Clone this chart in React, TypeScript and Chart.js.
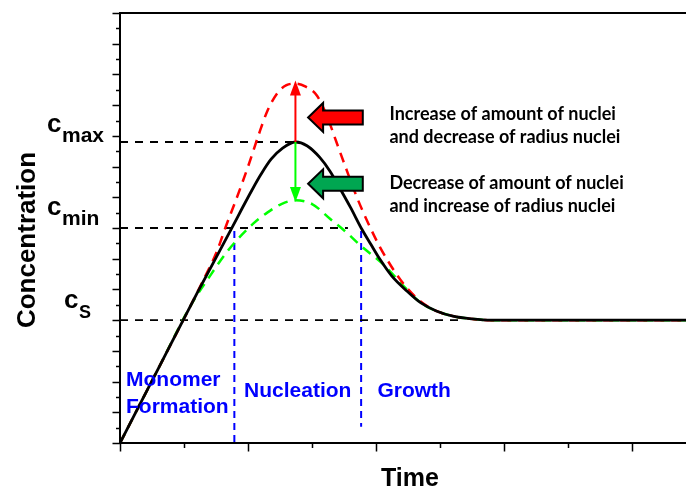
import React, { useEffect, useRef } from "react";
import { Chart, registerables } from "chart.js";
Chart.register(...registerables);

// ---- data (time in major-tick units, concentration in axis units) ----
const blackTime = [0, 0.3, 0.6, 0.88, 0.95, 1.03, 1.1, 1.18, 1.27, 1.37, 1.46, 1.56, 1.64, 1.72, 1.8, 1.89, 1.96, 2.03, 2.12, 2.24, 2.35, 2.47, 2.6, 2.75, 2.9, 3.2, 4.42];
const blackConc = [0, 2.43, 4.86, 7.05, 7.61, 8.23, 8.74, 9.24, 9.6, 9.8, 9.68, 9.3, 8.85, 8.27, 7.67, 6.95, 6.46, 5.98, 5.45, 4.95, 4.56, 4.3, 4.13, 4.04, 4.0, 4.0, 4.0];

const redTime = [0, 0.3, 0.55, 0.65, 0.755, 0.83, 0.9, 1.0, 1.08, 1.15, 1.23, 1.3, 1.37, 1.45, 1.54, 1.62, 1.69, 1.76, 1.85, 1.94, 2.03, 2.15, 2.24, 2.35, 2.47, 2.6, 2.75, 2.9, 3.2, 4.42];
const redConc = [0, 2.43, 4.46, 5.3, 6.22, 7.09, 7.85, 9.0, 10.0, 10.8, 11.4, 11.65, 11.7, 11.6, 11.3, 10.6, 9.8, 9.0, 8.0, 7.14, 6.38, 5.55, 5.05, 4.6, 4.3, 4.13, 4.04, 4.0, 4.0, 4.0];

const greenTime = [0, 0.3, 0.55, 0.69, 0.846, 1.04, 1.15, 1.26, 1.37, 1.5, 1.64, 1.77, 1.875, 2.06, 2.24, 2.35, 2.47, 2.6, 2.75, 2.9, 3.2, 4.42];
const greenConc = [0, 2.43, 4.46, 5.36, 6.28, 7.14, 7.5, 7.78, 7.9, 7.78, 7.3, 6.85, 6.44, 5.8, 5.0, 4.56, 4.3, 4.13, 4.04, 4.0, 4.0, 4.0];

// reference levels
const levelNames = ["max", "min", "S"];
const levelConc = [9.8, 7.0, 4.0];
const levelEndTime = [1.37, 1.78, 2.66];

// stage boundaries (blue dashed verticals)
const stageTime = [0.893, 1.883];
const stageTop = [6.9, 6.9];
const stageBottom = [0, 0.53];

// stage labels
const stageLabels = ["Monomer", "Formation", "Nucleation", "Growth"];
const stageLabelTime = [0.047, 0.047, 0.969, 2.01];
const stageLabelConc = [1.84, 0.97, 1.51, 1.51];

// peak arrows
const peakTime = 1.37;
const peakConc = 9.8;
const upArrowTo = 11.8;
const downArrowTo = 7.85;

// block arrows + notes
const blockArrowTipTime = 1.469;
const blockArrowTailTime = 1.896;
const blockArrowConc = [10.6, 8.44];
const noteLines = [
  "Increase of amount of nuclei",
  "and decrease of radius nuclei",
  "Decrease of amount of nuclei",
  "and increase of radius nuclei",
];
const noteTime = 2.104;
const noteConc = [10.52, 9.76, 8.28, 7.52];

const xMax = 4.42;
const yMax = 14;

const pts = (xs: number[], ys: number[]) => xs.map((x, i) => ({ x, y: ys[i] }));

const decor = {
  id: "decor",
  afterDatasetsDraw(chart: any) {
    const ctx = chart.ctx as CanvasRenderingContext2D;
    const X = (v: number) => chart.scales.x.getPixelForValue(v);
    const Y = (v: number) => chart.scales.y.getPixelForValue(v);
    ctx.save();

    // vertical arrows at peak
    const drawArrow = (color: string, from: number, to: number) => {
      const x = X(peakTime);
      const y0 = Y(from);
      const y1 = Y(to);
      const dir = y1 < y0 ? 1 : -1;
      const head = 15;
      ctx.strokeStyle = color;
      ctx.fillStyle = color;
      ctx.lineWidth = 2;
      ctx.setLineDash([]);
      ctx.beginPath();
      ctx.moveTo(x, y0);
      ctx.lineTo(x, y1 + dir * head * 0.8);
      ctx.stroke();
      ctx.beginPath();
      ctx.moveTo(x, y1);
      ctx.lineTo(x - 5.5, y1 + dir * head);
      ctx.lineTo(x + 5.5, y1 + dir * head);
      ctx.closePath();
      ctx.fill();
    };
    drawArrow("#ff0000", peakConc, upArrowTo);
    drawArrow("#00ff00", peakConc, downArrowTo);

    // block arrows
    const blockColors = ["#ff0000", "#00a651"];
    blockArrowConc.forEach((c, i) => {
      const tx = X(blockArrowTipTime);
      const ex = X(blockArrowTailTime);
      const cy = Y(c);
      const hb = tx + 15;
      ctx.beginPath();
      ctx.moveTo(tx, cy);
      ctx.lineTo(hb, cy - 14.5);
      ctx.lineTo(hb, cy - 7);
      ctx.lineTo(ex, cy - 7);
      ctx.lineTo(ex, cy + 7);
      ctx.lineTo(hb, cy + 7);
      ctx.lineTo(hb, cy + 14.5);
      ctx.closePath();
      ctx.fillStyle = blockColors[i];
      ctx.fill();
      ctx.lineWidth = 2;
      ctx.lineJoin = "miter";
      ctx.strokeStyle = "#000";
      ctx.stroke();
    });

    // notes
    ctx.fillStyle = "#000";
    ctx.font = "bold 18px Lato";
    ctx.textAlign = "left";
    ctx.textBaseline = "alphabetic";
    noteLines.forEach((t, i) => ctx.fillText(t, X(noteTime), Y(noteConc[i])));

    // stage labels
    ctx.fillStyle = "#0000ff";
    ctx.font = "bold 21px 'Liberation Sans'";
    stageLabels.forEach((t, i) => ctx.fillText(t, X(stageLabelTime[i]), Y(stageLabelConc[i])));

    ctx.restore();
  },
  afterDraw(chart: any) {
    const ctx = chart.ctx as CanvasRenderingContext2D;
    const { left, right, top, bottom } = chart.chartArea;
    const X = (v: number) => chart.scales.x.getPixelForValue(v);
    const Y = (v: number) => chart.scales.y.getPixelForValue(v);
    ctx.save();
    ctx.strokeStyle = "#000";
    ctx.setLineDash([]);
    ctx.lineWidth = 2;
    ctx.beginPath();
    ctx.moveTo(left, top);
    ctx.lineTo(left, bottom);
    ctx.moveTo(left - 1, bottom);
    ctx.lineTo(right, bottom);
    ctx.moveTo(left - 1, top);
    ctx.lineTo(right, top);
    ctx.stroke();

    ctx.lineWidth = 1.5;
    ctx.beginPath();
    for (let v = 0; v <= yMax + 1e-6; v += 0.5) {
      const y = Math.round(Y(v)) + 0.5;
      const major = Math.abs(v - Math.round(v)) < 1e-6;
      ctx.moveTo(left, y);
      ctx.lineTo(left - (major ? 7.5 : 4), y);
    }
    for (let v = 0; v <= xMax + 1e-6; v += 0.5) {
      const x = Math.round(X(v)) + 0.5;
      const major = Math.abs(v - Math.round(v)) < 1e-6;
      ctx.moveTo(x, bottom);
      ctx.lineTo(x, bottom + (major ? 8.5 : 5));
    }
    ctx.stroke();

    // level labels c_max, c_min, c_S
    ctx.fillStyle = "#000";
    ctx.textAlign = "left";
    ctx.textBaseline = "alphabetic";
    const cx = [47, 47, 64];
    const subOff = [0, -3, -2];
    levelNames.forEach((n, i) => {
      const yb = Y(levelConc[i]) + subOff[i];
      ctx.font = "bold 26px 'Liberation Sans'";
      ctx.fillText("c", cx[i], yb - 10);
      ctx.font = n === "S" ? "bold 18px 'Liberation Sans'" : "bold 21px 'Liberation Sans'";
      ctx.fillText(n, cx[i] + 15, yb);
    });

    // axis titles
    ctx.font = "bold 26px 'Liberation Sans'";
    ctx.textAlign = "center";
    ctx.save();
    ctx.translate(35, 240);
    ctx.rotate(-Math.PI / 2);
    ctx.fillText("Concentration", 0, 0);
    ctx.restore();
    ctx.font = "bold 25px 'Liberation Sans'";
    ctx.fillText("Time", 410, 486);
    ctx.restore();
  },
};

export default function App() {
  const ref = useRef<HTMLCanvasElement | null>(null);
  useEffect(() => {
    if (!ref.current) return;
    const dashed = (color: string, dash: number[], w: number) => ({
      borderColor: color,
      borderWidth: w,
      borderDash: dash,
      pointRadius: 0,
      fill: false,
      tension: 0,
    });
    const datasets: any[] = [
      {
        label: "Concentration",
        data: pts(blackTime, blackConc),
        borderColor: "#000",
        borderWidth: 2.8,
        pointRadius: 0,
        cubicInterpolationMode: "monotone",
      },
      {
        label: "Increase",
        data: pts(redTime, redConc),
        ...dashed("#ff0000", [10, 7], 2.5),
        cubicInterpolationMode: "monotone",
      },
      {
        label: "Decrease",
        data: pts(greenTime, greenConc),
        ...dashed("#00ff00", [10, 7], 2.5),
        cubicInterpolationMode: "monotone",
      },
    ];
    levelConc.forEach((c, i) => {
      datasets.push({
        label: "c" + levelNames[i],
        data: [
          { x: 0, y: c },
          { x: levelEndTime[i], y: c },
        ],
        ...dashed("#000", [8, 7], 1.8),
      });
    });
    stageTime.forEach((t, i) => {
      datasets.push({
        label: "stage" + i,
        data: [
          { x: t, y: stageTop[i] },
          { x: t, y: stageBottom[i] },
        ],
        ...dashed("#0000ff", [7, 5], 2),
      });
    });
    const chart = new Chart(ref.current, {
      type: "line",
      data: { datasets },
      options: {
        responsive: false,
        animation: false,
        devicePixelRatio: 1,
        layout: { padding: { left: 120, top: 13, right: 0, bottom: 45 } },
        plugins: { legend: { display: false }, tooltip: { enabled: false } },
        scales: {
          x: { type: "linear", min: 0, max: xMax, display: false },
          y: { type: "linear", min: 0, max: yMax, display: false },
        },
      },
      plugins: [decor],
    });
    return () => chart.destroy();
  }, []);
  return (
    <div style={{ position: "absolute", left: 0, top: 0, width: 686, height: 488, background: "#fff" }}>
      <canvas ref={ref} width={686} height={488} />
    </div>
  );
}
